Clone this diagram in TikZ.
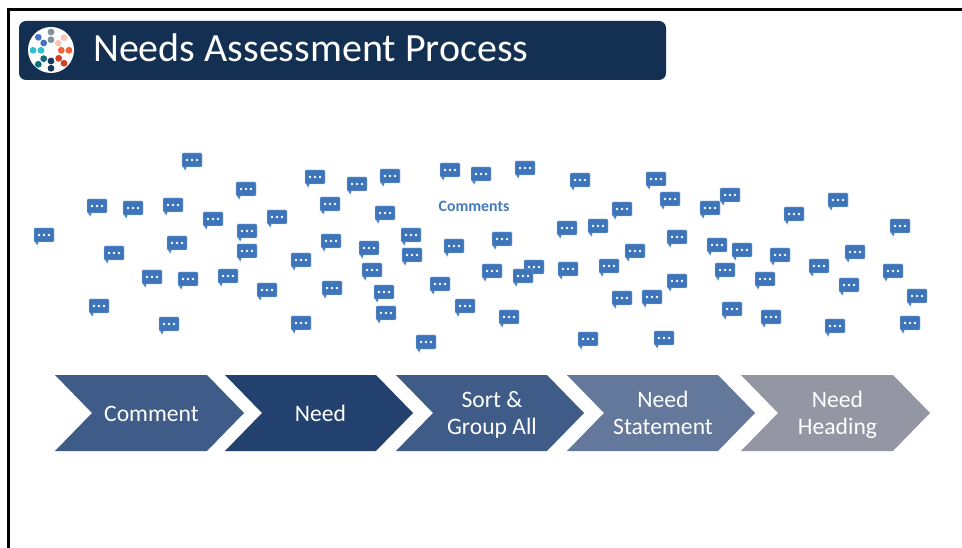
\documentclass[tikz,border=0pt]{standalone}
\usepackage{fontspec}
\setmainfont{Carlito}
\definecolor{headbg}{HTML}{132F52}
\definecolor{bubble}{HTML}{3D74BA}
\definecolor{bubbleedge}{HTML}{B4C9E4}
\definecolor{chevA}{HTML}{3F5C88}
\definecolor{chevB}{HTML}{23416F}
\definecolor{chevC}{HTML}{64789C}
\definecolor{chevD}{HTML}{9497A3}
\definecolor{commenttext}{HTML}{447ABD}
\tikzset{
  x=1pt,y=-1pt,
  frameline/.style={black,line width=3pt},
  header/.style={fill=headbg,draw=none,rounded corners=7pt},
  titletext/.style={anchor=west,text=white,font=\fontsize{40}{44}\selectfont,inner sep=0pt},
  chevlabel/.style={text=white,align=center,font=\fontsize{23.6}{26.6}\selectfont,inner sep=0pt},
  chevshape/.style={draw=none},
  bubblebody/.style={fill=bubble,draw=bubbleedge,line width=.4pt,line join=round},
  bubbletail/.style={fill=bubble,draw=bubbleedge,line width=.3pt,line join=round},
  bubbledot/.style={fill=white,draw=none},
  logodot/.style={draw=none},
  commentlabel/.style={text=commenttext,font=\fontsize{15.8}{18}\selectfont\bfseries,inner sep=0pt},
}
\newcommand{\chevron}[6]{% name, left, tipbase, colour, text, centre x
  \fill[chevshape,fill=#4] (#2,375) -- (#3,375) -- (#3+37,413) -- (#3,451) -- (#2,451) -- (#2+37,413) -- cycle;
  \node[chevlabel] (#1) at (#6,415.8) {#5};
}
\newcommand{\chatbubble}[2]{%
  \begin{scope}[shift={(#1,#2)}]
    \draw[bubbletail] (-9.5,6.5) -- (-6.5,10.5) -- (-5.5,6.5) -- cycle;
    \draw[bubblebody,rounded corners=.9] (-10,-7) rectangle (10,7);
    \foreach \dx in {-5,0,5} \fill[bubbledot] (\dx,0) circle (1.45);
  \end{scope}
}
\begin{document}
\begin{tikzpicture}
\useasboundingbox (0,0) rectangle (962,548);
\fill[white] (0,0) rectangle (962,548);
\draw[frameline] (8.5,548) -- (8.5,9.5) -- (962,9.5);
\fill[header] (19,21) rectangle (666,80);
\fill[white] (51,50) circle (23);
\foreach \x/\y/\c in {38.3/37.3/4472C4,43.7/43/4472C4,51/32/7F929E,51/39.7/7F929E,64/37.7/FDC4B4,58.3/43.3/FDC4B4,69/50.3/F0633A,61.3/50.3/F0633A,64/63.3/D2402A,58.7/58.3/D2402A,51/68.3/17375E,51/61/17375E,38.3/64.3/0F6E7C,43.7/58.7/0F6E7C,33/50.3/2FBFD0,41/50.3/2FBFD0}{
  \definecolor{dotc}{HTML}{\c}
  \fill[logodot,fill=dotc] (\x,\y) circle (3.4);
}
\node[titletext] (title) at (93,48) {Needs Assessment Process};
\foreach \x/\y in {44/235,97/206,133/208,173/205,192/160,246/189,213/219,247/231,247/251,114/253,177/243,152/277,188/279,228/276,99/306,169/324,267/290,277/217,301/260,301/323,315/177,330/204,357/184,390/176,385/213,331/241,369/248,411/235,412/255,372/270,332/288,384/292,386/313,426/342,440/284,454/246,465/306,450/170,481/174,525/168,502/239,492/271,534/267,523/276,509/317,567/228,568/269,598/226,580/180,622/209,656/179,670/199,710/208,730/195,677/237,635/251,609/266,622/298,652/297,677/281,588/339,664/338,717/245,742/250,725/270,765/279,780/255,794/214,838/200,855/252,819/266,849/285,732/309,771/317,835/326,900/226,893/271,917/296,910/323}{
  \chatbubble{\x}{\y}
}
\node[commentlabel] (comments) at (474,206) {Comments};
\chevron{c1}{55}{207}{chevA}{\strut Comment}{151.5}
\chevron{c2}{225}{376}{chevB}{\strut Need}{320.5}
\chevron{c3}{396}{547}{chevA}{\strut Sort \&\\\strut Group All}{492}
\chevron{c4}{567}{718}{chevC}{\strut Need\\\strut Statement}{663}
\chevron{c5}{741}{893}{chevD}{\strut Need\\\strut Heading}{837.5}
\end{tikzpicture}
\end{document}
